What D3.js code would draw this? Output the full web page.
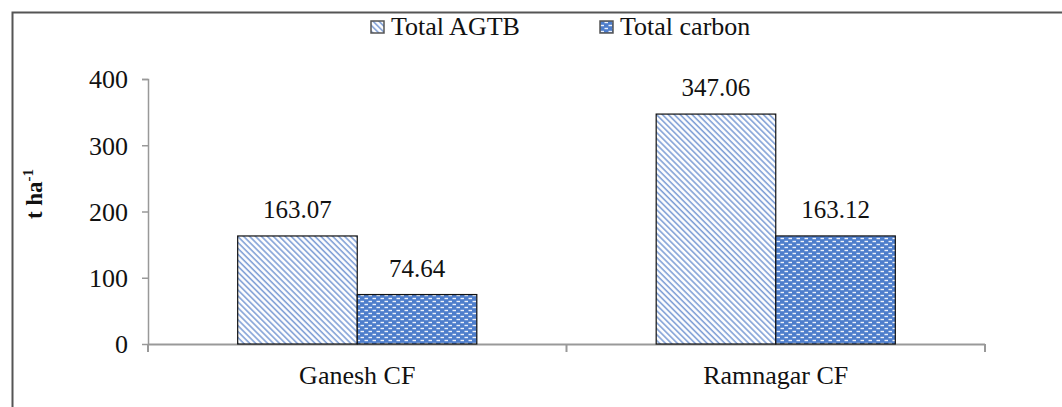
<!DOCTYPE html>
<html><head><meta charset="utf-8">
<script src="https://cdn.jsdelivr.net/npm/d3@7"></script>
<style>body{margin:0;background:#fff}svg{display:block}</style>
</head><body><div id="chart"></div>
<script>
const categories = ["Ganesh CF", "Ramnagar CF"];
const seriesNames = ["Total AGTB", "Total carbon"];
const agtb = [163.07, 347.06];
const carbon = [74.64, 163.12];
const yTicks = [0, 100, 200, 300, 400];

const FONT = "'Liberation Serif', 'Times New Roman', Times, serif";
const W = 1062, H = 407;
const svg = d3.select("#chart").append("svg").attr("width", W).attr("height", H);
const defs = svg.append("defs");
const hatch = defs.append("pattern").attr("id","hatch").attr("patternUnits","userSpaceOnUse")
  .attr("width",4.2).attr("height",10).attr("patternTransform","rotate(-45)");
hatch.append("rect").attr("width",4.2).attr("height",10).attr("fill","#fff");
hatch.append("line").attr("x1",1).attr("x2",1).attr("y1",0).attr("y2",10).attr("stroke","#7f9fd6").attr("stroke-width",1.6);
const dots = defs.append("pattern").attr("id","dots").attr("patternUnits","userSpaceOnUse")
  .attr("width",8).attr("height",6);
dots.append("rect").attr("width",8).attr("height",6).attr("fill","#4d7dcb");
dots.append("rect").attr("x",0.5).attr("y",0.8).attr("width",3.5).attr("height",1.4).attr("fill","#fff").attr("opacity",0.9);
dots.append("rect").attr("x",4.5).attr("y",3.8).attr("width",3.5).attr("height",1.4).attr("fill","#fff").attr("opacity",0.9);

function txt(sel, size, weight) {
  return sel.style("font-family", FONT).style("font-size", size + "px")
    .style("font-weight", weight || "normal").style("fill", "#111");
}

// frame
svg.append("path").attr("d",`M12.5,${H} V12.5 H${W}`).attr("fill","none").attr("stroke","#555").attr("stroke-width",2);

const x0 = d3.scaleBand().domain(categories).range([148, 985]).paddingInner(0).paddingOuter(0);
const x1 = d3.scaleBand().domain(seriesNames).range([0, x0.bandwidth()]).paddingInner(0).paddingOuter(0.75);
const y = d3.scaleLinear().domain([0, 400]).range([344, 79]);

// y axis
const yAxis = svg.append("g").attr("transform","translate(148,0)")
  .call(d3.axisLeft(y).tickValues(yTicks).tickSize(6).tickPadding(14));
yAxis.select(".domain").attr("stroke","#999").attr("stroke-width",1.5).attr("d","M-6,79.5H0.5V344.5");
yAxis.selectAll(".tick line").attr("stroke","#999").attr("stroke-width",1.5);
txt(yAxis.selectAll(".tick text"), 26).attr("dy","0.34em");

// x axis
const xg = svg.append("g").attr("transform","translate(0,344)");
xg.append("line").attr("x1",148).attr("x2",985).attr("y1",0.5).attr("y2",0.5).attr("stroke","#999").attr("stroke-width",2);
const bounds = [148, ...categories.map(c => x0(c) + x0.bandwidth())];
xg.selectAll("line.tk").data(bounds).join("line").attr("class","tk")
  .attr("x1",d=>d).attr("x2",d=>d).attr("y1",0).attr("y2",8).attr("stroke","#999").attr("stroke-width",2);
txt(xg.selectAll("text").data(categories).join("text")
  .attr("x",d=>x0(d)+x0.bandwidth()/2).attr("y",40).attr("text-anchor","middle"), 26).text(d=>d);

const data = [agtb, carbon];
const fills = ["url(#hatch)","url(#dots)"];
seriesNames.forEach((s, si) => {
  const g = svg.append("g");
  g.selectAll("rect").data(categories).join("rect")
    .attr("x", c => x0(c) + x1(s)).attr("width", x1.bandwidth())
    .attr("y", (c,i) => y(data[si][i])).attr("height", (c,i) => y(0) - y(data[si][i]))
    .attr("fill", fills[si]).attr("stroke","#111").attr("stroke-width",1.2);
  txt(g.selectAll("text").data(categories).join("text")
    .attr("x", c => x0(c) + x1(s) + x1.bandwidth()/2)
    .attr("y", (c,i) => y(data[si][i]) - 18)
    .attr("text-anchor","middle"), 25)
    .text((c,i) => data[si][i].toFixed(2));
});

// y title
const yt = txt(svg.append("text").attr("transform","translate(42,194) rotate(-90)").attr("text-anchor","middle"), 23, "bold");
yt.append("tspan").text("t ha");
yt.append("tspan").attr("dy",-9).style("font-size","15px").text("-1");

// legend
const legX = [371, 600];
seriesNames.forEach((s, i) => {
  svg.append("rect").attr("x", legX[i]).attr("y", 21).attr("width", 13).attr("height", 12)
    .attr("fill", fills[i]).attr("stroke","#555").attr("stroke-width",1.5);
  txt(svg.append("text").attr("x", legX[i] + 20).attr("y", 35), 26).text(s);
});
</script></body></html>
